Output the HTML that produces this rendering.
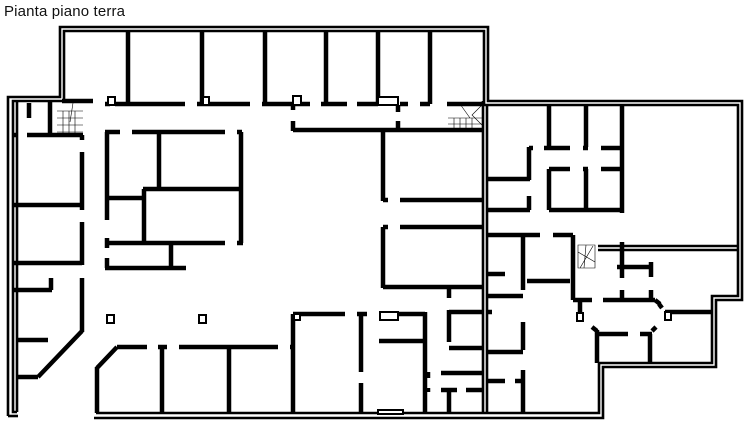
<!DOCTYPE html>
<html><head><meta charset="utf-8"><style>
html,body{margin:0;padding:0;background:#fff;width:755px;height:433px;overflow:hidden}
svg{display:block}
</style></head><body>
<svg width="755" height="433" viewBox="0 0 755 433" xmlns="http://www.w3.org/2000/svg">
<text x="4" y="16" font-family="Liberation Sans, sans-serif" font-size="15" fill="#111" textLength="121">Pianta piano terra</text>
<g fill="none" stroke="#000" stroke-width="2.6" stroke-linejoin="miter">
<polyline points="8,416 8,97 60,97 60,27 488,27 488,101 742,101 742,300 716,300 716,367 603,367 603,418 94,418"/>
<polyline points="17,412 13,412 13,101 64,101 64,31 484,31 484,105 738,105 738,296 712,296 712,363 599,363 599,413 96,413"/>
<line x1="8" y1="416" x2="18" y2="416"/>
<line x1="17" y1="412" x2="17" y2="101"/>
<line x1="483" y1="101" x2="483" y2="413"/>
<line x1="487" y1="105" x2="487" y2="413"/>
<line x1="598" y1="246" x2="738" y2="246"/>
<line x1="598" y1="250" x2="738" y2="250"/>
</g>
<g stroke="#000" stroke-width="4.5" fill="none" stroke-linecap="butt">
<path d="M128,31V104 M202,31V104 M265,31V104 M326,31V104 M378,31V104 M430,31V104"/>
<path d="M62,101H93 M105,104H110 M115,104H185 M197,104H250 M262,104H310 M321,104H347 M357,104H378 M400,104H408 M420,104H430 M447,104H484"/>
<path d="M293,105V110 M293,121V131 M398,105V112 M398,121V131 M293,130H484"/>
<path d="M29,103V118 M50,101V135 M27,135H83 M13,135H17 M82,135V140 M82,152V210 M13,205H82"/>
<path d="M82,222V265 M82,278V332 M13,263H82 M13,290H52 M51,278V290 M17,340H48 M82,331L38,377 M17,377H38"/>
<path d="M105,132H120 M132,132H225 M237,132H242 M107,132V220 M159,132V188 M143,189H241 M144,189V243 M241,132V243 M107,198H143 M107,238V248 M107,258V268 M105,243H225 M237,243H243 M171,243V268 M105,268H186"/>
<path d="M117,347L97,368 M97,367V413 M117,347H147 M158,347H167 M179,347H278 M290,347H293 M162,347V413 M229,347V413 M293,314V413 M293,314H345 M357,314H367 M361,314V372 M361,383V413"/>
<path d="M383,132V201 M383,200H388 M400,200H482 M383,227H388 M400,227H482 M383,227V288 M383,287H482 M449,287V298 M449,310V342 M449,312H482 M449,348H482"/>
<path d="M425,312V413 M379,341H425 M398,314H425 M441,373H482 M428,372V378 M428,388V392 M441,390H457 M466,390H482 M449,390V413"/>
<path d="M549,105V147 M586,105V147 M622,105V213 M529,147V180 M529,196V210 M529,148H533 M544,148H570 M583,148H588 M601,148H622 M486,179H530 M486,210H530 M549,169H570 M583,169H588 M601,169H622 M549,169V210 M586,169V210 M549,210H622"/>
<path d="M488,235H540 M553,235H573 M573,235V300 M523,237V290 M527,281H570 M487,296H523 M487,274H505 M573,300H592 M603,300H655 M622,242V278 M622,290V300 M617,267H651 M651,262V277 M651,290V300 M580,300V320"/>
<path d="M665,312H712 M597,330V363 M597,334H628 M640,334H652 M650,334V363 M655,300L660,304 M592,327L597,331 M652,331L656,327 M659,304L662,308"/>
<path d="M487,352H523 M523,322V350 M523,370V413 M487,381H505 M515,381H523 M487,312H492"/>
</g>
<g fill="#fff" stroke="#000" stroke-width="2">
<rect x="108" y="97" width="7" height="8"/><rect x="203" y="97" width="6" height="8"/><rect x="293" y="96" width="8" height="9"/><rect x="378" y="97" width="20" height="8"/>
<rect x="107" y="315" width="7" height="8"/><rect x="199" y="315" width="7" height="8"/><rect x="294" y="314" width="6" height="6"/>
<rect x="577" y="313" width="6" height="8"/><rect x="665" y="312" width="6" height="8"/><rect x="380" y="312" width="18" height="8"/><rect x="378" y="410" width="25" height="4"/>
</g>
<g stroke="#000" stroke-width="0.6" fill="none">
<path d="M57,111H83 M57,118H83 M57,125H83 M57,132H83 M63,111V134 M69,111V134 M75,111V134 M73,103L70,122"/>
<path d="M448,118H482 M448,124H482 M448,130H482 M454,118V130 M460,118V130 M466,118V130 M472,118V130 M460,104L470,118 M482,105L472,115 L482,125"/>
<path d="M578,245H595V268H578Z M578,252L595,262 M580,268L593,246 M586,245L584,268"/>
</g>
</svg>
</body></html>
